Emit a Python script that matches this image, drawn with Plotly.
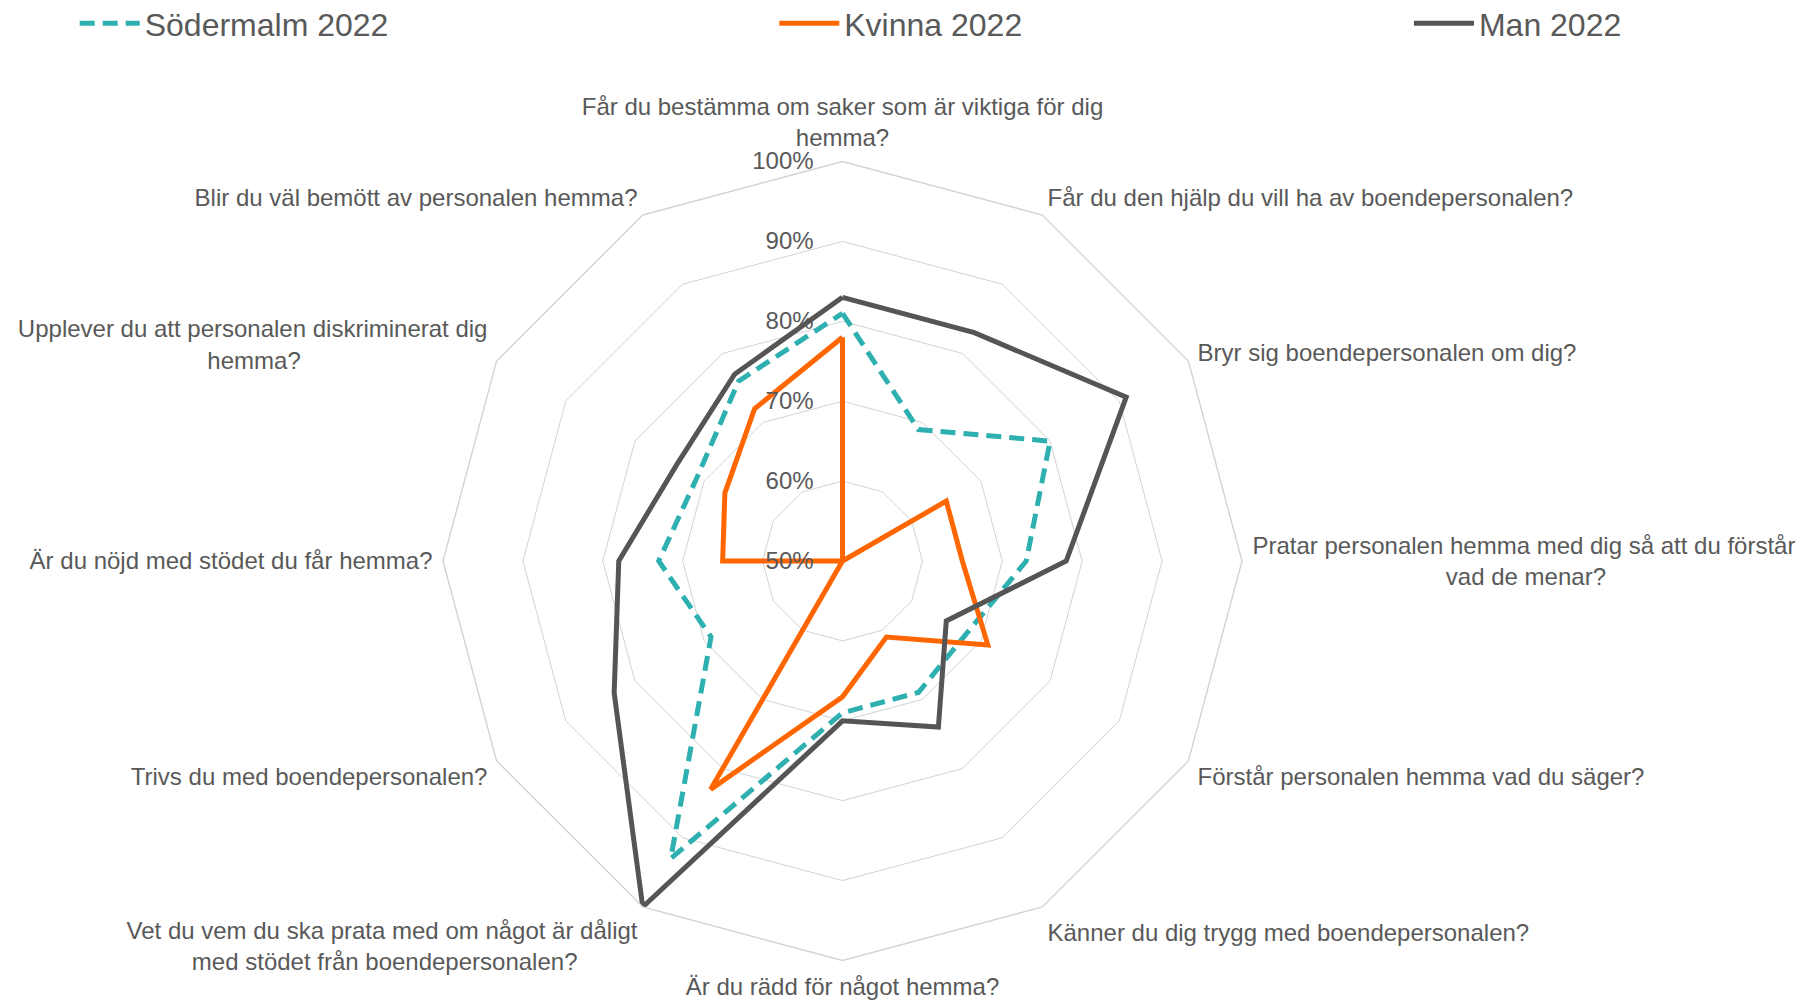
import plotly.graph_objects as go

categories = [
    "Får du bestämma om saker som är viktiga för dig hemma?",
    "Får du den hjälp du vill ha av boendepersonalen?",
    "Bryr sig boendepersonalen om dig?",
    "Pratar personalen hemma med dig så att du förstår vad de menar?",
    "Förstår personalen hemma vad du säger?",
    "Känner du dig trygg med boendepersonalen?",
    "Är du rädd för något hemma?",
    "Vet du vem du ska prata med om något är dåligt med stödet från boendepersonalen?",
    "Trivs du med boendepersonalen?",
    "Är du nöjd med stödet du får hemma?",
    "Upplever du att personalen diskriminerat dig hemma?",
    "Blir du väl bemött av personalen hemma?",
]

# Displayed (wrapped) tick labels, same order as categories
tick_labels = [
    "Får du bestämma om saker som är viktiga för dig<br>hemma?",
    "Får du den hjälp du vill ha av boendepersonalen?",
    "Bryr sig boendepersonalen om dig?",
    "Pratar personalen hemma med dig så att du förstår<br>" + "\u00a0" * 29 + "vad de menar?",
    "Förstår personalen hemma vad du säger?",
    "Känner du dig trygg med boendepersonalen?",
    "Är du rädd för något hemma?",
    "Vet du vem du ska prata med om något är dåligt<br>med stödet från boendepersonalen?" + "\u00a0" * 9,
    "Trivs du med boendepersonalen?",
    "Är du nöjd med stödet du får hemma?",
    "Upplever du att personalen diskriminerat dig<br>hemma?" + "\u00a0" * 28,
    "Blir du väl bemött av personalen hemma?",
]

sodermalm_2022 = [81, 69, 80, 73, 68, 69, 69, 93, 69, 73, 71, 76]
kvinna_2022 = [78, 50, 65, 65, 71, 61, 67, 83, 50, 65, 67, 72]
man_2022 = [83, 83, 91, 78, 65, 74, 70, 100, 83, 78, 74, 77]

radial_ticks = [50, 60, 70, 80, 90, 100]
radial_tick_text = ["50%", "60%", "70%", "80%", "90%", "100%"]

TEXT = "#595959"
FONT = "Liberation Sans, Arial, sans-serif"


def closed(v):
    return list(v) + [v[0]]


fig = go.Figure()
fig.add_trace(go.Scatterpolar(
    r=closed(sodermalm_2022), theta=closed(categories), mode="lines",
    name="Södermalm 2022", legend="legend", showlegend=True,
    line=dict(color="#2EB0B0", width=5, dash="15px,8px"),
))
fig.add_trace(go.Scatterpolar(
    r=closed(kvinna_2022), theta=closed(categories), mode="lines",
    name="Kvinna 2022", legend="legend2", showlegend=True,
    line=dict(color="#FF6600", width=5),
))
fig.add_trace(go.Scatterpolar(
    r=closed(man_2022), theta=closed(categories), mode="lines",
    name="Man 2022", legend="legend3", showlegend=True,
    line=dict(color="#555555", width=5),
))

legend_common = dict(
    orientation="h", yanchor="top", y=1.012, xanchor="left",
    font=dict(family=FONT, size=32, color=TEXT), bgcolor="rgba(0,0,0,0)",
    itemwidth=60,
)

fig.update_layout(
    width=1803, height=1000,
    paper_bgcolor="white",
    showlegend=True,
    margin=dict(l=0, r=0, t=0, b=0, autoexpand=False),
    font=dict(family=FONT, size=24, color=TEXT),
    legend=dict(x=0.037, **legend_common),
    legend2=dict(x=0.425, **legend_common),
    legend3=dict(x=0.777, **legend_common),
    polar=dict(
        domain=dict(x=[435 / 1803, 1234 / 1803], y=[0.0475, 0.8465]),
        bgcolor="white",
        gridshape="linear",
        radialaxis=dict(
            range=[50, 100], tickmode="array", tickvals=radial_ticks,
            ticktext=radial_tick_text, tickangle=90,
            angle=90, side="counterclockwise", showline=False,
            ticks="outside", ticklen=20, tickcolor="rgba(0,0,0,0)",
            gridcolor="#D3D3D3", gridwidth=1.4,
            tickfont=dict(family=FONT, size=24, color=TEXT),
        ),
        angularaxis=dict(
            rotation=90, direction="clockwise", showgrid=False,
            tickmode="array", tickvals=categories, ticktext=tick_labels,
            showline=True, linecolor="#D3D3D3", linewidth=1.4,
            ticks="outside", ticklen=5, tickcolor="rgba(0,0,0,0)",
            tickfont=dict(family=FONT, size=24, color=TEXT),
        ),
    ),
)

fig.write_html("out.html")
